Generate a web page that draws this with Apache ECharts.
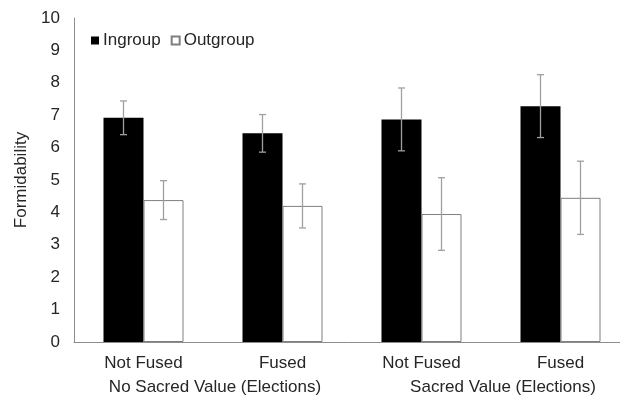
<!DOCTYPE html>
<html>
<head>
<meta charset="utf-8">
<script src="https://cdn.jsdelivr.net/npm/echarts@6/dist/echarts.min.js"></script>
<style>html,body{margin:0;padding:0;background:#fff}#c{width:620px;height:397px}</style>
</head>
<body>
<div id="c"></div>
<script>
var categories = ['Not Fused', 'Fused', 'Not Fused', 'Fused'];
var groupLabels = ['No Sacred Value (Elections)', 'Sacred Value (Elections)'];
var ingroup = [6.92, 6.44, 6.87, 7.28];
var ingroupErr = [0.52, 0.58, 0.97, 0.97];
var outgroup = [4.38, 4.20, 3.95, 4.45];
var outgroupErr = [0.60, 0.68, 1.12, 1.13];
var yTicks = [0, 1, 2, 3, 4, 5, 6, 7, 8, 9, 10];

var FONT = '"Liberation Sans", Arial, sans-serif';
var BAR_W = 40;
var FS = 17;

function errSeries(vals, errs, shift) {
  return {
    type: 'custom',
    xAxisIndex: 0,
    yAxisIndex: 0,
    z: 10,
    silent: true,
    data: vals.map(function (v, i) { return [i, v, errs[i]]; }),
    renderItem: function (params, api) {
      var i = api.value(0), v = api.value(1), e = api.value(2);
      var top = api.coord([i, v + e]);
      var bot = api.coord([i, v - e]);
      var x = top[0] + shift;
      var cap = 3.5;
      var st = { stroke: '#a0a0a0', lineWidth: 1.3 };
      return {
        type: 'group',
        children: [
          { type: 'line', shape: { x1: x, y1: top[1], x2: x, y2: bot[1] }, style: st },
          { type: 'line', shape: { x1: x - cap, y1: top[1], x2: x + cap, y2: top[1] }, style: st },
          { type: 'line', shape: { x1: x - cap, y1: bot[1], x2: x + cap, y2: bot[1] }, style: st }
        ]
      };
    }
  };
}

var chart = echarts.init(document.getElementById('c'), null, { renderer: 'canvas' });
chart.setOption({
  animation: false,
  backgroundColor: '#fff',
  textStyle: { fontFamily: FONT },
  grid: { left: 74, width: 556, top: 18, bottom: 55, containLabel: false, outerBoundsMode: 'none' },
  legend: {
    left: 86,
    top: 27,
    icon: 'rect',
    itemWidth: 8,
    itemHeight: 8,
    itemGap: 10,
    textStyle: { fontFamily: FONT, fontSize: FS, color: '#262626', padding: [0, 0, 0, -1] },
    data: ['Ingroup', 'Outgroup']
  },
  xAxis: [
    {
      type: 'category',
      data: categories,
      position: 'bottom',
      axisLine: { lineStyle: { color: '#8c8c8c', width: 1 } },
      axisTick: { show: false },
      axisLabel: { interval: 0, fontFamily: FONT, fontSize: FS, color: '#262626', margin: 13 }
    },
    {
      type: 'category',
      data: groupLabels,
      position: 'bottom',
      offset: 24,
      axisLine: { show: false },
      axisTick: { show: false },
      axisLabel: {
        interval: 0,
        hideOverlap: false,
        fontFamily: FONT, fontSize: FS, color: '#262626', margin: 13,
        formatter: function (v, idx) { return idx === 0 ? '{a|' + v + '}' : '{b|' + v + '}'; },
        rich: {
          a: { fontFamily: FONT, fontSize: FS, color: '#262626', padding: [0, 0, 0, 4] },
          b: { fontFamily: FONT, fontSize: FS, color: '#262626', padding: [0, 0, 0, 24] }
        }
      }
    }
  ],
  yAxis: {
    type: 'value',
    min: 0,
    max: 10,
    interval: 1,
    name: 'Formidability',
    nameLocation: 'middle',
    nameGap: 43,
    nameTextStyle: { fontFamily: FONT, fontSize: FS, color: '#262626' },
    axisLine: { show: true, lineStyle: { color: '#8c8c8c', width: 1 } },
    axisTick: { show: false },
    splitLine: { show: false },
    axisLabel: {
      fontFamily: FONT, fontSize: FS, color: '#262626', margin: 14,
      formatter: function (v) { return yTicks.indexOf(v) >= 0 ? String(v) : ''; }
    }
  },
  series: [
    {
      name: 'Ingroup',
      type: 'bar',
      data: ingroup,
      barWidth: BAR_W,
      barGap: '0%',
      itemStyle: { color: '#000', borderColor: '#000', borderWidth: 0 }
    },
    {
      name: 'Outgroup',
      type: 'bar',
      data: outgroup,
      barWidth: BAR_W,
      barGap: '0%',
      itemStyle: { color: '#fff', borderColor: '#7f7f7f', borderWidth: 1 }
    },
    errSeries(ingroup, ingroupErr, -BAR_W / 2),
    errSeries(outgroup, outgroupErr, BAR_W / 2)
  ]
});
</script>
</body>
</html>
